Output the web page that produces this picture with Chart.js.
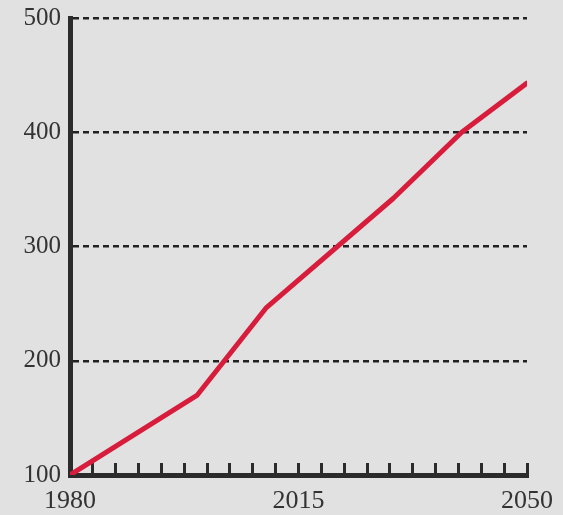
<!DOCTYPE html>
<html>
<head>
<meta charset="utf-8">
<script src="https://cdn.jsdelivr.net/npm/chart.js@4/dist/chart.umd.min.js"></script>
<style>
  html, body { margin:0; padding:0; background:#e1e1e1; }
  #wrap { width:563px; height:515px; }
</style>
</head>
<body>
<div id="wrap"><canvas id="lineChart" width="563" height="515"></canvas></div>
<script>
// Data
const years  = [1980, 1999.5, 2010, 2029.5, 2040, 2050];
const values = [100, 170, 246, 342, 400, 443];
const xLabels = [1980, 2015, 2050];
const yTicks  = [100, 200, 300, 400, 500];

const ink = '#2b2b2b';
const serif = "'Liberation Serif', 'DejaVu Serif', serif";

new Chart(document.getElementById('lineChart').getContext('2d'), {
  type: 'line',
  data: {
    datasets: [{
      data: years.map((y, i) => ({ x: y, y: values[i] })),
      borderColor: '#d71d3b',
      borderWidth: 5,
      pointRadius: 0,
      tension: 0,
      borderCapStyle: 'round',
      borderJoinStyle: 'round'
    }]
  },
  options: {
    responsive: false,
    animation: false,
    layout: { padding: { top: 18, right: 36, left: 0, bottom: 0 } },
    plugins: { legend: { display: false }, tooltip: { enabled: false } },
    scales: {
      x: {
        type: 'linear',
        min: 1980, max: 2050,
        afterFit: s => { s.height = 40; s.paddingLeft = 0; s.paddingRight = 0; },
        border: { display: true, color: ink, width: 5 },
        grid: { drawOnChartArea: false, drawTicks: true, tickLength: -12, tickWidth: 3, tickColor: ink },
        ticks: {
          stepSize: 3.5, autoSkip: false, maxRotation: 0, padding: 23,
          color: '#333', font: { family: serif, size: 26 },
          callback: v => xLabels.includes(v) ? String(v) : ''
        }
      },
      y: {
        min: 100, max: 500,
        afterFit: s => { s.width = 70; s.paddingTop = 0; s.paddingBottom = 0; },
        afterBuildTicks: s => { s.ticks = yTicks.map(v => ({ value: v })); },
        border: { display: true, color: ink, width: 5, dash: [6, 4] },
        grid: { color: '#222', lineWidth: 2.5, drawTicks: false },
        ticks: { padding: 9, color: '#333', font: { family: serif, size: 25 } }
      }
    }
  }
});
</script>
</body>
</html>
